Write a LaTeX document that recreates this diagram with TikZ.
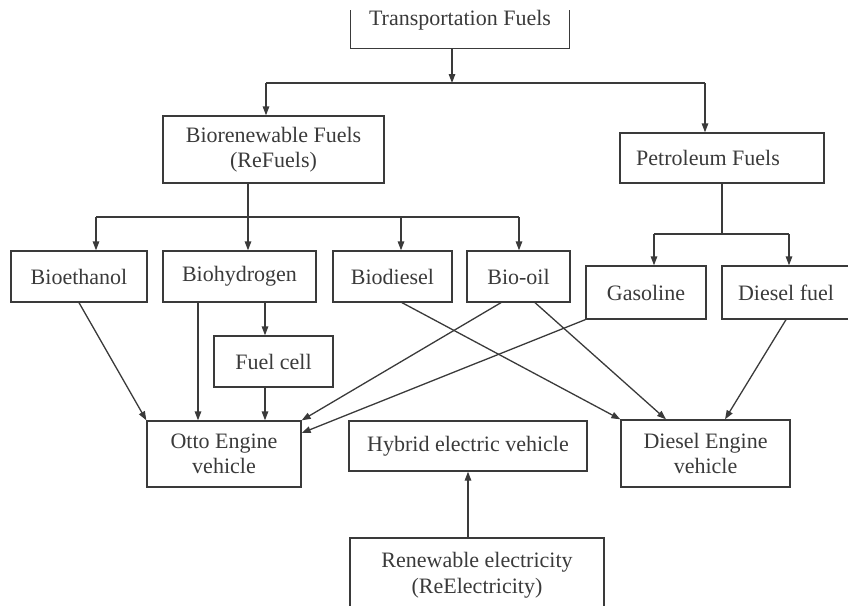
\documentclass[tikz,border=0pt]{standalone}
\usepackage{fontspec}
\setmainfont{Liberation Serif}
\usetikzlibrary{arrows.meta}
\definecolor{ink}{HTML}{3A3A3A}
\begin{document}
\begin{tikzpicture}[x=1pt,y=-1pt,
  every node/.style={font=\fontsize{22}{25.5}\selectfont, text=ink, inner sep=0pt, align=center},
  box/.style={draw=ink, line width=1.3pt, rectangle},
  conn/.style={draw=ink, line width=1.3pt},
  arr/.style={conn, -{Triangle[length=9pt,width=6.5pt]}}]
\useasboundingbox (0,0) rectangle (848,605);
% nodes
\node[minimum width=218, minimum height=56] (T) at (460,20) {Transportation Fuels};
\node[box, minimum width=221, minimum height=67] (Bio) at (273.5,149.5) {Biorenewable Fuels\\(ReFuels)};
\node[box, minimum width=204, minimum height=50] (Pet) at (722,158) {Petroleum Fuels\hspace*{28pt}};
\node[box, minimum width=136, minimum height=51] (Eth) at (79,276.5) {Bioethanol};
\node[box, minimum width=153, minimum height=51] (Hyd) at (239.5,276.5) {Biohydrogen};
\node[box, minimum width=119, minimum height=51] (Dsl) at (392.5,276.5) {Biodiesel};
\node[box, minimum width=103, minimum height=51] (Oil) at (518.5,276.5) {Bio-oil};
\node[box, minimum width=120, minimum height=53] (Gas) at (646,292.5) {Gasoline};
\node[box, minimum width=128, minimum height=53] (DF) at (786,292.5) {Diesel fuel};
\node[box, minimum width=119, minimum height=51] (FC) at (273.5,361.5) {Fuel cell};
\node[box, minimum width=154, minimum height=66] (Otto) at (224,454) {Otto Engine\\vehicle};
\node[box, minimum width=238, minimum height=50] (HEV) at (468,446) {Hybrid electric vehicle};
\node[box, minimum width=169, minimum height=67] (DEV) at (705.5,453.5) {Diesel Engine\\vehicle};
\node[box, minimum width=254, minimum height=74] (RE) at (477,575) {Renewable electricity\\(ReElectricity)};
% open top box of Transportation Fuels
\draw[conn] (T.west |- 0,10) -- (T.south west) -- (T.south east) -- (T.east |- 0,10);
% junction coordinates
\coordinate (j1) at (452,83);
\coordinate (jL) at (266,83);
\coordinate (jR) at (705,83);
\coordinate (k) at (248,217);
\coordinate (k1) at (96,217);
\coordinate (k3) at (401,217);
\coordinate (k4) at (519,217);
\coordinate (p) at (722,234);
\coordinate (p1) at (654,234);
\coordinate (p2) at (789,234);
% top tree
\draw[arr] (j1 |- T.south) -- (j1);
\draw[conn] (jL) -- (jR);
\draw[arr] (jL) -- (jL |- Bio.north);
\draw[arr] (jR) -- (jR |- Pet.north);
% biorenewable tree
\draw[conn] (k |- Bio.south) -- (k);
\draw[conn] (k1) -- (k4);
\draw[arr] (k1) -- (k1 |- Eth.north);
\draw[arr] (k) -- (k |- Hyd.north);
\draw[arr] (k3) -- (k3 |- Dsl.north);
\draw[arr] (k4) -- (k4 |- Oil.north);
% petroleum tree
\draw[conn] (p |- Pet.south) -- (p);
\draw[conn] (p1) -- (p2);
\draw[arr] (p1) -- (p1 |- Gas.north);
\draw[arr] (p2) -- (p2 |- DF.north);
% fuel cell
\draw[arr] ([xshift=25.5pt]Hyd.south) -- ([xshift=25.5pt]Hyd.south |- FC.north);
% to Otto
\draw[arr] (Eth.south) -- (Otto.north west);
\draw[arr] ([xshift=-41.5pt]Hyd.south) -- ([xshift=-41.5pt]Hyd.south |- Otto.north);
\draw[arr] ([xshift=-8.5pt]FC.south) -- ([xshift=-8.5pt]FC.south |- Otto.north);
\draw[arr] ([xshift=-17.5pt]Oil.south) -- (Otto.north east);
\draw[arr] (Gas.south west) -- ([yshift=21pt]Otto.east);
% to Diesel engine
\draw[arr] ([xshift=9.5pt]Dsl.south) -- (DEV.north west);
\draw[arr] ([xshift=16.5pt]Oil.south) -- ([xshift=-39.5pt]DEV.north);
\draw[arr] (DF.south) -- ([xshift=19.5pt]DEV.north);
% renewable electricity
\draw[arr] (HEV.south |- RE.north) -- (HEV.south);
\end{tikzpicture}
\end{document}
